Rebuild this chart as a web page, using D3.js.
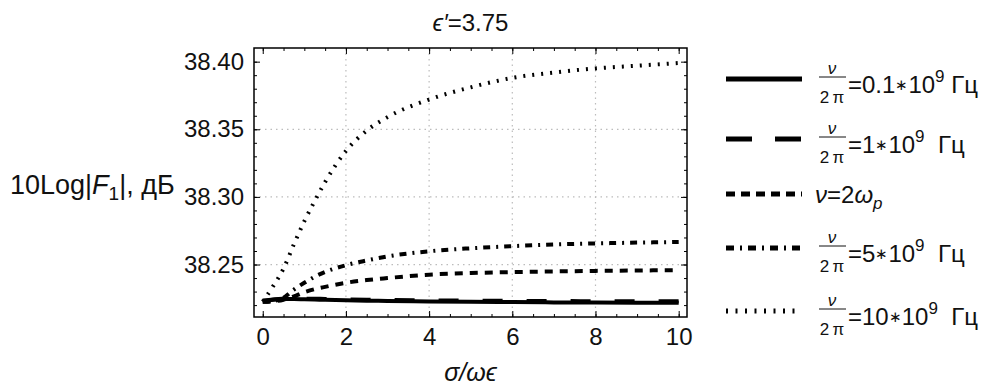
<!DOCTYPE html>
<html>
<head>
<meta charset="utf-8">
<script src="https://cdn.jsdelivr.net/npm/d3@7"></script>
<style>
	body { margin: 0; background: #fff; }
	svg { display: block; font-family: "Liberation Sans", Arial, sans-serif; }
</style>
</head>
<body>
<svg id="chart" width="989" height="389"></svg>
<script>
// sigma / (omega * epsilon)
const xValues = [0, 0.25, 0.5, 0.75, 1, 1.25, 1.5, 2, 2.5, 3, 4, 5, 6, 7, 8, 9, 10];

// 10 Log|F1|, dB for each frequency
const f01 = [38.2232, 38.2240, 38.2245, 38.2245, 38.2243, 38.2241, 38.2239, 38.2236, 38.2233, 38.2231, 38.2227, 38.2224, 38.2222, 38.2220, 38.2219, 38.2218, 38.2217];
const f1 = [38.2232, 38.2242, 38.2248, 38.2249, 38.2248, 38.2247, 38.2246, 38.2243, 38.2240, 38.2238, 38.2235, 38.2233, 38.2231, 38.2230, 38.2229, 38.2228, 38.2228];
const f2wp = [38.2225, 38.2228, 38.2240, 38.2265, 38.2295, 38.2318, 38.2335, 38.2365, 38.2385, 38.2400, 38.2425, 38.2437, 38.2444, 38.2449, 38.2453, 38.2456, 38.2458];
const f5 = [38.2225, 38.2230, 38.2255, 38.2315, 38.2365, 38.2410, 38.2445, 38.2495, 38.2530, 38.2560, 38.2598, 38.2620, 38.2636, 38.2648, 38.2656, 38.2662, 38.2667];
const f10 = [38.2225, 38.2340, 38.2470, 38.2650, 38.2820, 38.2970, 38.3110, 38.3340, 38.3490, 38.3590, 38.3720, 38.3810, 38.3880, 38.3920, 38.3950, 38.3970, 38.3990];

const seriesList = [f01, f1, f2wp, f5, f10];
const legendFreq = ["0.1", "1", null, "5", "10"];

const xTicks = [0, 2, 4, 6, 8, 10];
const yTicks = [38.25, 38.30, 38.35, 38.40];
const xGrid = [2, 4, 6, 8];
const yGrid = [38.25, 38.30, 38.35];

// line looks, same order as seriesList
const styles = [
	{ width: 4, dash: null, legendDash: null },
	{ width: 4, dash: "20,24", legendDash: "26,23" },
	{ width: 4, dash: "8,7", legendDash: "9,6" },
	{ width: 4, dash: "7,6,2,6", legendDash: "8,6,2,6" },
	{ width: 4, dash: "2,7", legendDash: "2,7.5" }
];

const svg = d3.select("#chart");
const margin = { left: 254, top: 48, right: 302, bottom: 72 };
const w = 989 - margin.left - margin.right;
const h = 389 - margin.top - margin.bottom;

const x = d3.scaleLinear().domain([-0.21, 10.2]).range([0, w]);
const y = d3.scaleLinear().domain([38.2112, 38.4101]).range([h, 0]);

const plot = svg.append("g").attr("transform", "translate(" + margin.left + "," + margin.top + ")");

// grid
plot.append("g").selectAll("line").data(xGrid).enter().append("line")
	.attr("x1", d => x(d)).attr("x2", d => x(d))
	.attr("y1", 0).attr("y2", h)
	.attr("stroke", "#bcbcbc").attr("stroke-width", 1.2).attr("stroke-dasharray", "1.5,4");
plot.append("g").selectAll("line").data(yGrid).enter().append("line")
	.attr("y1", d => y(d)).attr("y2", d => y(d))
	.attr("x1", 0).attr("x2", w)
	.attr("stroke", "#bcbcbc").attr("stroke-width", 1.2).attr("stroke-dasharray", "1.5,4");

// curves
const line = d3.line()
	.x((d, i) => x(xValues[i]))
	.y(d => y(d))
	.curve(d3.curveMonotoneX);

plot.append("g").selectAll("path").data(seriesList).enter().append("path")
	.attr("fill", "none")
	.attr("stroke", "#000")
	.attr("stroke-width", (d, i) => styles[i].width)
	.attr("stroke-dasharray", (d, i) => styles[i].dash)
	.attr("d", line);

// ticks on all four sides, pointing inward
const xMinor = d3.range(0, 10.01, 0.5);
const yMinor = d3.range(38.22, 38.405, 0.01);

function tickAxis(axisFn, scale, values, size, label) {
	let a = axisFn(scale).tickValues(values).tickSizeInner(-size).tickSizeOuter(0);
	if (!label) a = a.tickFormat("");
	return a;
}

function drawAxis(axis, transform) {
	const g = plot.append("g").attr("transform", transform).call(axis);
	g.select(".domain").remove();
	g.selectAll("line").attr("stroke", "#000").attr("stroke-width", 1);
	return g;
}

drawAxis(tickAxis(d3.axisBottom, x, xMinor, 3, false), "translate(0," + h + ")");
drawAxis(tickAxis(d3.axisTop, x, xMinor, 3, false), "translate(0,0)");
drawAxis(tickAxis(d3.axisLeft, y, yMinor, 3, false), "translate(0,0)");
drawAxis(tickAxis(d3.axisRight, y, yMinor, 3, false), "translate(" + w + ",0)");
drawAxis(tickAxis(d3.axisTop, x, xTicks, 6, false), "translate(0,0)");
drawAxis(tickAxis(d3.axisRight, y, yTicks, 6, false), "translate(" + w + ",0)");

const xAx = drawAxis(tickAxis(d3.axisBottom, x, xTicks, 6, true).tickFormat(d3.format("d")).tickPadding(11), "translate(0," + h + ")");
const yAx = drawAxis(tickAxis(d3.axisLeft, y, yTicks, 6, true).tickFormat(d3.format(".2f")).tickPadding(10), "translate(0,0)");
xAx.selectAll("text").attr("font-size", 24).attr("font-family", null).attr("fill", "#111");
yAx.selectAll("text").attr("font-size", 24).attr("font-family", null).attr("fill", "#111");

// frame
plot.append("rect").attr("width", w).attr("height", h)
	.attr("fill", "none").attr("stroke", "#000").attr("stroke-width", 1.5);

// title
const title = svg.append("text").attr("x", margin.left + w / 2).attr("y", 31)
	.attr("text-anchor", "middle").attr("font-size", 24).attr("fill", "#111");
title.append("tspan").attr("font-style", "italic").text("\u03f5\u2032");
title.append("tspan").text("=3.75");

// axis titles
const yl = svg.append("text").attr("x", 10).attr("y", 194).attr("font-size", 27).attr("fill", "#111");
yl.append("tspan").text("10Log|");
yl.append("tspan").attr("font-style", "italic").text("F");
yl.append("tspan").attr("font-size", 19).attr("dy", 6).text("1");
yl.append("tspan").attr("dy", -6).text("|, дБ");

svg.append("text").attr("x", margin.left + w / 2).attr("y", 381)
	.attr("text-anchor", "middle").attr("font-size", 25).attr("font-style", "italic").attr("fill", "#111")
	.text("\u03c3/\u03c9\u03f5");

// legend
const legendY = [79, 139, 194, 248, 311];
const legend = svg.append("g");
seriesList.forEach((s, i) => {
	const ly = legendY[i];
	legend.append("line")
		.attr("x1", 726).attr("x2", 802).attr("y1", ly).attr("y2", ly)
		.attr("stroke", "#000").attr("stroke-width", styles[i].width + 1)
		.attr("stroke-dasharray", styles[i].legendDash);
	if (legendFreq[i] === null) {
		const t = legend.append("text").attr("x", 815).attr("y", ly + 9).attr("font-size", 24).attr("fill", "#111");
		t.append("tspan").attr("font-style", "italic").text("\u03bd");
		t.append("tspan").text("=2");
		t.append("tspan").attr("font-style", "italic").text("\u03c9");
		t.append("tspan").attr("font-style", "italic").attr("font-size", 17).attr("dy", 6).text("p");
		return;
	}
	legend.append("text").attr("x", 832).attr("y", ly - 5).attr("text-anchor", "middle")
		.attr("font-size", 17).attr("font-style", "italic").attr("fill", "#111").text("\u03bd");
	legend.append("line").attr("x1", 819).attr("x2", 846).attr("y1", ly - 2).attr("y2", ly - 2)
		.attr("stroke", "#111").attr("stroke-width", 1);
	legend.append("text").attr("x", 832).attr("y", ly + 24).attr("text-anchor", "middle")
		.attr("font-size", 17).attr("fill", "#111").text("2\u2009\u03c0");
	const t = legend.append("text").attr("x", 848).attr("y", ly + 14).attr("font-size", 24).attr("fill", "#111");
	t.append("tspan").text("=" + legendFreq[i]);
	t.append("tspan").attr("font-size", 15).attr("dy", -3).text("\u2217");
	t.append("tspan").attr("dy", 3).text("10");
	t.append("tspan").attr("font-size", 17).attr("dy", -11).text("9");
	t.append("tspan").attr("dy", 11).text(i === 0 ? "\u00a0Гц" : "\u00a0\u00a0Гц");
});
</script>
</body>
</html>
